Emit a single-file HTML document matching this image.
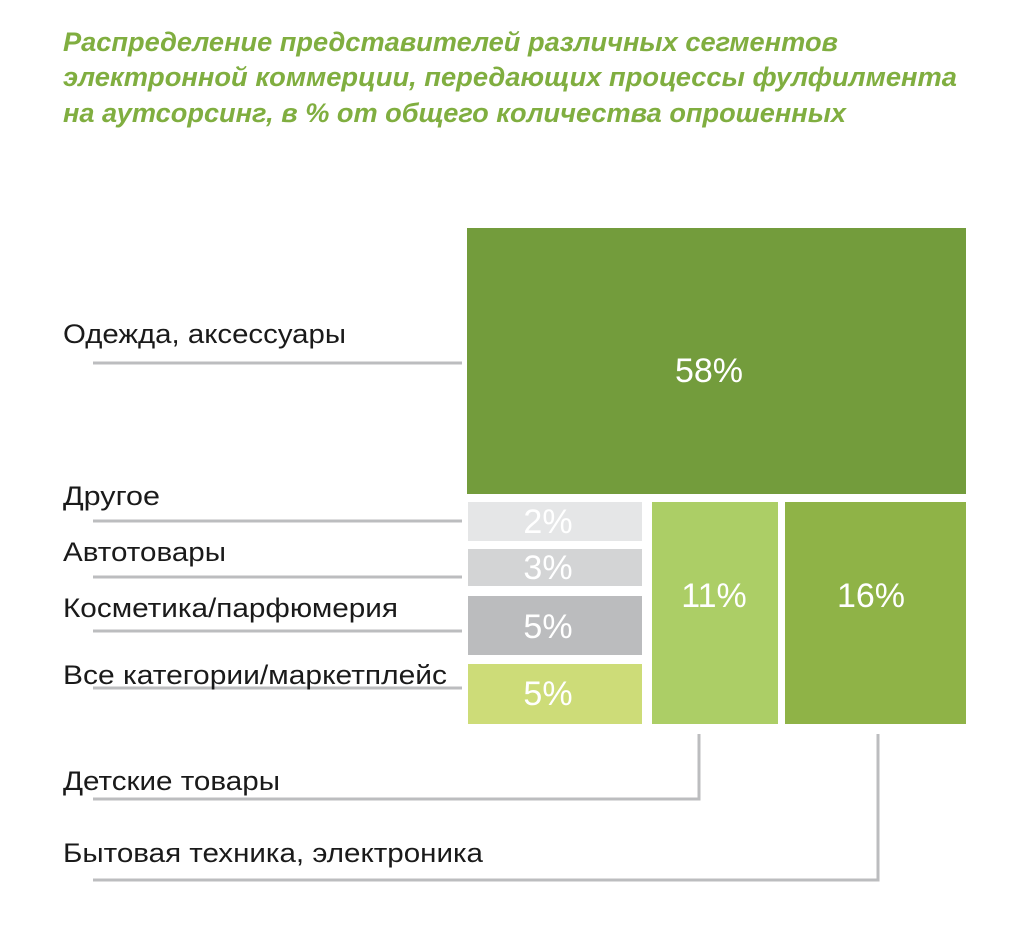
<!DOCTYPE html>
<html><head><meta charset="utf-8"><style>body{margin:0;background:#fff}</style></head>
<body>
<svg width="1024" height="921" xmlns="http://www.w3.org/2000/svg" font-family="Liberation Sans, sans-serif">
<g fill="#80ae40" font-style="italic" font-weight="bold" font-size="27">
<text x="63" y="51" textLength="775" lengthAdjust="spacingAndGlyphs">Распределение представителей различных сегментов</text>
<text x="63" y="86" textLength="894" lengthAdjust="spacingAndGlyphs">электронной коммерции, передающих процессы фулфилмента</text>
<text x="63" y="122" textLength="783" lengthAdjust="spacingAndGlyphs">на аутсорсинг, в % от общего количества опрошенных</text>
</g>
<rect x="467" y="228" width="499" height="266" fill="#739c3c"/>
<rect x="468" y="502" width="174" height="39" fill="#e5e6e7"/>
<rect x="468" y="549" width="174" height="37" fill="#d3d4d5"/>
<rect x="468" y="596" width="174" height="59" fill="#bbbcbe"/>
<rect x="468" y="664" width="174" height="60" fill="#cddc78"/>
<rect x="652" y="502" width="126" height="222" fill="#acce66"/>
<rect x="785" y="502" width="181" height="222" fill="#8fb347"/>
<g stroke="#bcbdbf" stroke-width="3" fill="none">
<line x1="93" y1="363" x2="462" y2="363"/>
<line x1="93" y1="521" x2="462" y2="521"/>
<line x1="93" y1="577" x2="462" y2="577"/>
<line x1="93" y1="631" x2="462" y2="631"/>
<line x1="93" y1="688" x2="462" y2="688"/>
<polyline points="93,799 699,799 699,734"/>
<polyline points="93,880 878,880 878,734"/>
</g>
<g fill="#1a1a1a" font-size="27">
<text x="63" y="343" textLength="283" lengthAdjust="spacingAndGlyphs">Одежда, аксессуары</text>
<text x="63" y="505" textLength="97" lengthAdjust="spacingAndGlyphs">Другое</text>
<text x="63" y="561" textLength="163" lengthAdjust="spacingAndGlyphs">Автотовары</text>
<text x="63" y="617" textLength="335" lengthAdjust="spacingAndGlyphs">Косметика/парфюмерия</text>
<text x="63" y="684" textLength="384" lengthAdjust="spacingAndGlyphs">Все категории/маркетплейс</text>
<text x="63" y="790" textLength="217" lengthAdjust="spacingAndGlyphs">Детские товары</text>
<text x="63" y="862" textLength="420" lengthAdjust="spacingAndGlyphs">Бытовая техника, электроника</text>
</g>
<g fill="#fff" font-size="34" text-anchor="middle">
<text x="709" y="382">58%</text>
<text x="548" y="533">2%</text>
<text x="548" y="579">3%</text>
<text x="548" y="638">5%</text>
<text x="548" y="705">5%</text>
<text x="714" y="607">11%</text>
<text x="871" y="607">16%</text>
</g>
</svg>
</body></html>
